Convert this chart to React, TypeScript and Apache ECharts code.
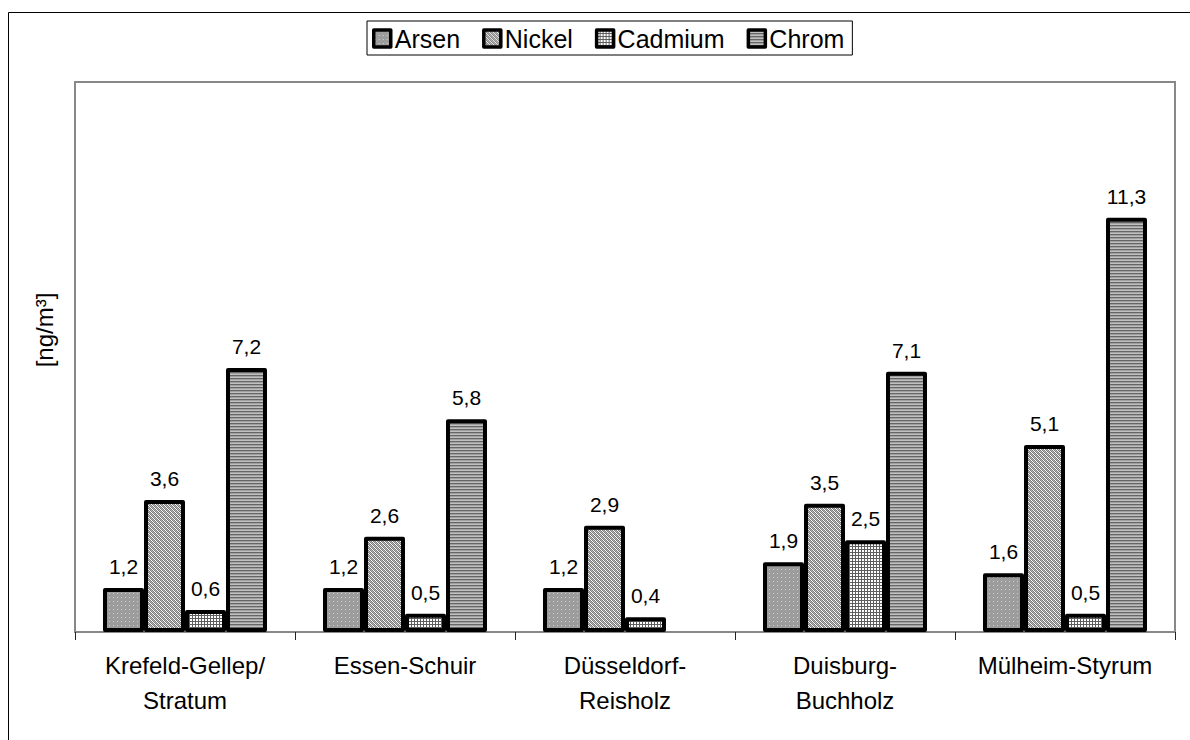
import React, { useEffect, useRef } from "react";
import * as echarts from "echarts";

// Stations and measured heavy-metal concentrations (ng/m³)
const stations = [
  "Krefeld-Gellep/\nStratum",
  "Essen-Schuir",
  "Düsseldorf-\nReisholz",
  "Duisburg-\nBuchholz",
  "Mülheim-Styrum",
];
const arsen = [1.2, 1.2, 1.2, 1.9, 1.6];
const nickel = [3.6, 2.6, 2.9, 3.5, 5.1];
const cadmium = [0.6, 0.5, 0.4, 2.5, 0.5];
const chrom: (number | null)[] = [7.2, 5.8, null, 7.1, 11.3];
const seriesNames = ["Arsen", "Nickel", "Cadmium", "Chrom"];
const yMax = 15;
const yUnit = "[ng/m³]";

type Painter = (x: number, y: number) => string;

function makeTile(w: number, h: number, paint: Painter): HTMLCanvasElement {
  const c = document.createElement("canvas");
  c.width = w;
  c.height = h;
  const ctx = c.getContext("2d")!;
  for (let y = 0; y < h; y++) {
    for (let x = 0; x < w; x++) {
      ctx.fillStyle = paint(x, y);
      ctx.fillRect(x, y, 1, 1);
    }
  }
  return c;
}

function fills() {
  // dotted gray
  const dots = makeTile(4, 4, (x, y) => (x === 1 && y === 1 ? "#d0d0d0" : "#9c9c9c"));
  // fine diagonal hatch
  const diag = makeTile(4, 4, (x, y) =>
    (x + y) % 2 === 0 ? "#7a7a7a" : (x - y + 8) % 4 === 1 ? "#b8b8b8" : "#ffffff"
  );
  // small grid
  const grid = makeTile(3, 3, (x, y) => (x === 0 || y === 0 ? "#5e5e5e" : "#ffffff"));
  // horizontal stripes
  const stripes = makeTile(1, 3, (_x, y) => (y === 0 ? "#666666" : y === 1 ? "#a0a0a0" : "#c0c0c0"));
  return [dots, diag, grid, stripes].map((img) => ({ image: img, repeat: "repeat" as const }));
}

const fmt = (v: number) => String(v.toFixed(1)).replace(".", ",");

export default function App() {
  const ref = useRef<HTMLDivElement>(null);

  useEffect(() => {
    document.body.style.margin = "0";
    const chart = echarts.init(ref.current!, null, { renderer: "svg" });
    const pats = fills();
    const datasets = [arsen, nickel, cadmium, chrom];
    const font = "Arial, 'Liberation Sans', sans-serif";

    chart.setOption({
      animation: false,
      backgroundColor: "#ffffff",
      textStyle: { fontFamily: font },
      graphic: [
        {
          type: "rect",
          shape: { x: 8.5, y: 12.5, width: 2000, height: 2000 },
          style: { fill: "none", stroke: "#000", lineWidth: 1 },
          silent: true,
        },
        {
          type: "text",
          x: 44,
          y: 330,
          rotation: Math.PI / 2,
          style: {
            text: yUnit,
            font: `24px ${font}`,
            fill: "#000",
            align: "center",
            verticalAlign: "middle",
          },
        },
      ],
      legend: {
        top: 21,
        left: 367,
        data: seriesNames,
        icon: "rect",
        itemWidth: 17,
        itemHeight: 17,
        itemGap: 22,
        padding: [5, 8, 4, 5],
        borderColor: "#000",
        borderWidth: 1,
        itemStyle: { borderColor: "#000", borderWidth: 3.5 },
        textStyle: { fontSize: 25, color: "#000", fontFamily: font, padding: [0, 0, 0, -1] },
      },
      grid: {
        left: 75,
        top: 82,
        right: 15,
        bottom: 108,
        show: true,
        borderColor: "#888",
        borderWidth: 2,
      },
      xAxis: {
        type: "category",
        data: stations,
        axisLine: { lineStyle: { color: "#888", width: 2 } },
        axisTick: { show: true, length: 8, lineStyle: { color: "#222", width: 1 } },
        axisLabel: {
          interval: 0,
          color: "#000",
          fontSize: 24,
          lineHeight: 35,
          margin: 16,
          fontFamily: font,
        },
      },
      yAxis: {
        type: "value",
        min: 0,
        max: yMax,
        axisLine: { show: false },
        axisTick: { show: false },
        axisLabel: { show: false },
        splitLine: { show: false },
      },
      series: datasets.map((d, i) => ({
        name: seriesNames[i],
        type: "bar",
        data: d,
        barWidth: 41,
        barGap: "0%",
        itemStyle: {
          color: pats[i],
          borderColor: "#000",
          borderWidth: 4,
          borderJoin: "round",
        },
        label: {
          show: true,
          position: "top",
          distance: 11,
          fontSize: 21,
          color: "#000",
          fontFamily: font,
          formatter: (p: any) => fmt(p.value),
        },
      })),
    });

    return () => chart.dispose();
  }, []);

  return <div ref={ref} style={{ width: 1190, height: 740 }} />;
}
